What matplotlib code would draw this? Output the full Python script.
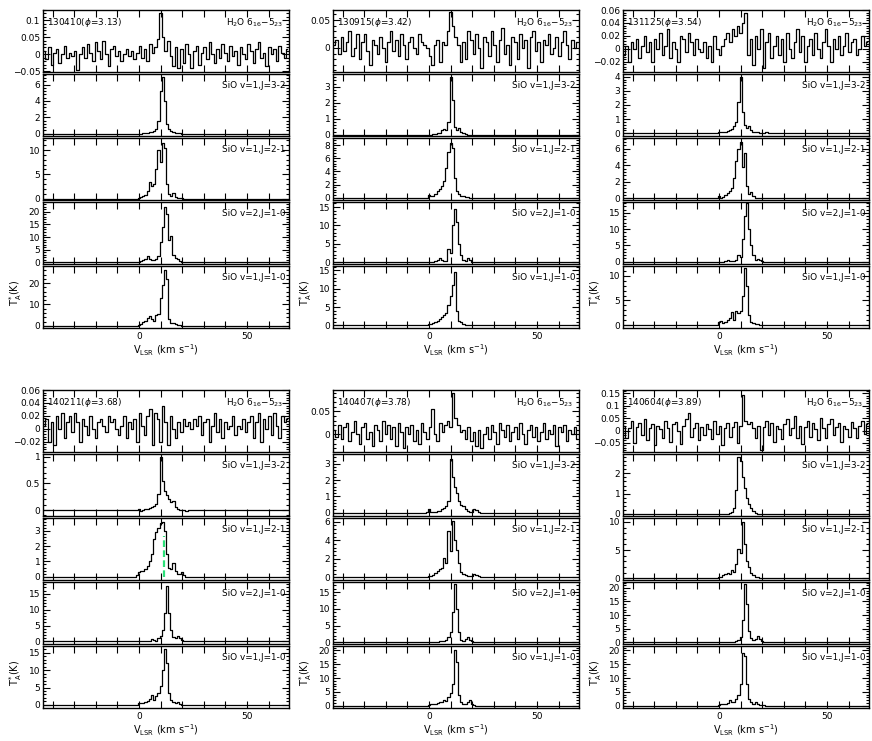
import numpy as np
import matplotlib
matplotlib.use('Agg')
import matplotlib.pyplot as plt
from matplotlib.ticker import FixedLocator, FuncFormatter, AutoMinorLocator

# observing epochs
dates = ['130410', '130915', '131125', '140211', '140407', '140604']
phases = [3.13, 3.42, 3.54, 3.68, 3.78, 3.89]
sio_names = ['SiO v=1,J=3-2', 'SiO v=1,J=2-1', 'SiO v=2,J=1-0', 'SiO v=1,J=1-0']

# H2O 6_16-5_23 spectra, units of 1e-3 K, channels from -44 km/s step 1.2 km/s
h2o_v0, h2o_dv = -44.0, 1.2
h2o_130410 = [10, -15, 20, -30, 5, 15, -25, 0, 25, -10, 5, -5, 10, -45, 0, 20, -10, 30, 5, -20,
              35, 10, -15, 40, 0, -35, 15, 25, -5, 10, -20, 0, 15, -5, 10, -15, 5, 25, -10, 15,
              -20, 30, 5, 20, 45, 120, 50, 10, 40, -5, -35, 20, -40, 15, -25, 30, 0, -40, 10, 25,
              -30, 5, 20, -15, 35, 0, -25, 15, -10, 30, 5, -20, 25, -5, 10, -30, 20, 0, -15, 30,
              10, -25, 15, 35, -10, 5, -35, 20, 0, 15, -20, 25, 5, -10, 15]
h2o_130915 = [5, 15, -10, 20, -5, 10, 30, -15, 0, 25, -20, 10, 25, -5, -30, 15, 5, -10, 20, 0,
              -25, 10, 30, -5, 15, -15, 25, 5, -20, 10, 20, 0, -10, 25, 10, 5, 0, -15, -30, 5,
              15, -25, 10, 5, 30, 65, 40, 20, 5, -25, 10, -20, 30, 15, -10, 25, 0, -35, 20, 10,
              -15, 30, 5, -25, 15, 35, -10, 5, -30, 20, 10, -20, 25, 0, 15, -35, 20, 30, -5, 10,
              -25, 15, 5, 25, -10, 0, 20, -15, 10, 30, 5, -20, 15, 0, 10]
h2o_131125 = [-10, 5, -20, 10, 0, 15, -15, 5, 20, -5, 10, -20, 15, 0, 25, -10, 5, 30, -15, 10,
              0, -20, 20, 15, -5, 25, 10, -10, 15, 0, -5, 10, -15, 5, -20, 20, 0, -10, 5, 15,
              25, 10, 30, 20, 35, 25, 40, 55, -10, 15, -25, 20, 0, 30, -30, 10, 25, -15, 5, 20,
              -10, 15, -20, 25, 0, -15, 10, 30, -5, 20, -20, 5, 15, -10, 25, 0, -15, 10, 30, 5,
              -20, 15, 0, 20, -10, 5, 25, -5, 10, 15, -10, 0, 20, 5, 10]
h2o_140211 = [5, 15, -20, 10, -25, 20, 0, 25, -15, 10, 20, -5, 25, 10, -20, 15, 5, -10, 20, 0,
              -15, 10, 15, 5, -5, 20, 10, 15, 0, -10, 5, 20, -15, 10, 0, 15, -20, 25, 5, -10,
              20, 30, -25, 25, 15, -20, 35, 10, -25, 20, 0, -15, 10, -5, 15, 5, 10, 0, 15, 5,
              20, -10, 10, 15, -20, 5, 25, -5, 15, -15, 10, 0, 5, 20, -10, 5, 0, 15, -5, 10,
              20, -15, 10, 25, -20, 15, 0, 20, -10, 25, 5, -15, 20, 10, 15]
h2o_140407 = [10, -5, 20, -10, 15, 25, -15, 5, 30, 0, -20, 15, 25, -10, 5, -25, 20, 10, -15, 30,
              0, 20, -10, 15, -25, 25, 5, -30, 15, 0, 20, -15, 10, -20, 25, 5, -10, 15, 55, 0,
              -15, 25, 5, 20, 30, 15, 90, 35, 20, 5, 10, -10, 15, -15, 5, -25, 10, -30, 0, 15,
              -10, 20, 5, -20, 25, 10, -5, 20, -15, 5, 15, -10, 25, 0, -20, 10, 20, -5, 15, -15,
              5, 25, -10, 10, 0, 20, -25, 15, 5, 20, -15, 10, 0, 15, -10]
h2o_140604 = [20, -30, 10, 40, -50, 15, 30, -20, 45, -40, 10, 25, -60, 20, 5, -30, 40, 10, -45, 25,
              35, 0, -55, 20, 45, 70, -25, 10, 30, -40, 15, -20, 25, 5, -35, 40, -15, 20, -60, 10,
              30, -25, 15, 35, -50, 20, 145, 40, 25, 35, 10, -30, 20, -80, 15, 40, -20, 30, -45, 20,
              5, -35, 25, 45, -20, 10, 60, -30, 20, -55, 15, 40, -25, 30, 5, -40, 50, 10, -30, 25,
              45, -20, 15, 30, -45, 20, 5, -25, 35, 10, -30, 20, 40, -15, 25]

# SiO spectra (K), channels from -2 km/s step 1 km/s, baseline zero outside
sio_v0 = -2.0
sio_130410_32 = [0, 0, 0, 0, 0.05, 0.05, 0.1, 0.15, 0.2, 0.3, 0.6, 1.5, 5.2, 6.9, 4.0, 1.2, 0.5, 0.3, 0.2, 0.1, 0.05, 0.05, 0, 0, 0, 0, 0, 0]
sio_130410_21 = [0, 0, 0.2, 0.3, 0.5, 0.8, 1.5, 3.4, 2.5, 3.0, 6, 10, 7.5, 11.5, 10.5, 3, 1.0, 0.6, 1.2, 0.4, 0.2, 0.1, 0.05, 0, 0, 0, 0, 0]
sio_130410_v2 = [0, 0, 0.2, 0.4, 0.8, 1.5, 2.5, 1.5, 0.8, 1.0, 1.5, 2.5, 8, 14, 22, 19, 9, 10.5, 3, 1.8, 1.5, 0.5, 0.2, 0.1, 0, 0, 0, 0]
sio_130410_10 = [0, 0, 0.3, 1.0, 2.0, 2.5, 3.5, 4.5, 3.0, 2.5, 5.0, 5.5, 13, 19, 26, 22, 3, 1.2, 1.5, 1.0, 0.6, 0.2, 0.1, 0, 0, 0, 0, 0]

sio_130915_32 = [0, 0, 0, 0, 0.05, 0.05, 0.1, 0.1, 0.3, 0.35, 0.3, 0.8, 3.6, 2.2, 0.5, 0.3, 0.4, 0.2, 0.1, 0.05, 0, 0, 0, 0, 0, 0, 0, 0]
sio_130915_21 = [0, 0, 0.4, 0.2, 0.3, 0.6, 1.0, 1.4, 1.8, 2.5, 4.5, 7, 8.3, 7.5, 3.0, 1.0, 0.5, 0.3, 0.2, 0.1, 0.05, 0, 0, 0, 0, 0, 0, 0]
sio_130915_v2 = [0, 0, 0, 0, 0, 0.2, 0.5, 1.2, 0.5, 0.2, 0.3, 3.5, 2.5, 10, 14.5, 11, 5, 2, 0.5, 0.4, 1.0, 0.5, 0.1, 0, 0, 0, 0, 0]
sio_130915_10 = [0, 0, 0.5, 0.3, 0.6, 0.9, 1.2, 1.8, 2.2, 2.8, 3.5, 5.5, 8, 11, 14.5, 4, 1.2, 0.8, 0.4, 0.2, 0.1, 0, 0, 0, 0, 0, 0, 0]

sio_131125_32 = [0, 0, 0.05, 0.05, 0.1, 0.1, 0.15, 0.2, 0.3, 0.5, 0.8, 2.2, 4.0, 1.5, 0.6, 0.4, 0.5, 0.2, 0.1, 0.1, 0.05, 0, 0, 0, 0.05, 0, 0, 0]
sio_131125_21 = [0, 0, 0.3, 0.1, 0.2, 0.4, 0.6, 0.9, 1.2, 2.5, 4.5, 6.0, 6.8, 3.8, 5.5, 1.5, 0.5, 0.8, 0.3, 0.1, 0, 0, 0, 0, 0, 0, 0, 0]
sio_131125_v2 = [0, 0, 0, 0, 0, 0.3, 0.6, 0.3, 0.2, 0.3, 0.5, 2.0, 1.5, 7, 14, 18, 10, 5, 2, 0.5, 0.8, 0.5, 0.1, 0, 0, 0, 0, 0]
sio_131125_10 = [0, 0, 0.6, 0.8, 0.5, 0.7, 1.0, 1.5, 2.6, 1.0, 2.8, 2.5, 2.8, 6, 11.5, 8, 2, 0.6, 0.4, 0.3, 0.2, 0.1, 0, 0, 0, 0, 0, 0]

sio_140211_32 = [0.01, 0, 0.02, -0.01, 0.01, 0.02, 0.03, 0.04, 0.06, 0.08, 0.12, 0.3, 1.0, 0.55, 0.35, 0.28, 0.2, 0.15, 0.18, 0.06, 0.02, 0.01, 0, 0.01, -0.01, 0.01, 0, 0]
sio_140211_21 = [0, 0.1, 0.3, 0.35, 0.4, 0.5, 0.7, 1.0, 1.5, 2.5, 2.9, 3.2, 3.5, 3.6, 3.0, 1.5, 0.6, 0.5, 0.9, 0.4, 0.2, 0.15, 0.3, 0.1, 0, 0, 0, 0]
sio_140211_v2 = [0, 0, 0, 0, 0, 0, 0.2, 0.3, 0.8, 0.4, 0.3, 1.0, 1.8, 3.5, 9, 17.5, 9, 3.5, 1.5, 1.2, 1.8, 1.0, 0.4, 0.1, 0, 0, 0, 0]
sio_140211_10 = [0, 0, 0.4, 0.5, 0.5, 0.8, 1.2, 1.8, 2.8, 1.5, 2.5, 3.5, 5.5, 10, 16, 12, 3.5, 1.5, 0.8, 0.6, 0.8, 0.3, 0.1, 0, 0, 0, 0, 0]

sio_140407_32 = [0, 0.05, 0.2, 0.05, 0.05, 0.05, 0.1, 0.1, 0.2, 0.3, 0.4, 0.7, 3.3, 2.2, 1.6, 1.2, 0.7, 0.5, 0.4, 0.2, 0.1, 0.05, 0.05, 0.2, 0.15, 0.05, 0, 0]
sio_140407_21 = [0, 0.05, 0.1, 0.2, 0.3, 0.5, 0.7, 0.9, 1.0, 2.1, 1.6, 5.0, 2.8, 6.1, 4.0, 3.0, 1.5, 0.6, 0.4, 0.3, 0.2, 0.1, 0.2, 0.4, 0.3, 0.1, 0, 0]
sio_140407_v2 = [0, 0, 0, 0, 0, 0, 0.2, 0.5, 0.3, 0.5, 0.8, 1.5, 3, 9, 17.5, 10, 3, 0.8, 0.5, 1.0, 1.5, 0.8, 0.3, 0.1, 0, 0, 0, 0]
sio_140407_10 = [0, 0, 0.3, 0.5, 0.6, 0.8, 1.0, 1.2, 1.5, 2.2, 1.8, 3.0, 4.5, 8, 20, 16, 4, 1.2, 0.8, 0.8, 1.2, 2.0, 0.5, 0.2, 0.1, 0, 0, 0]

sio_140604_32 = [0, 0, 0, 0, 0, 0, 0.02, 0.05, 0.1, 0.3, 1.2, 2.8, 2.6, 1.8, 1.3, 0.8, 0.5, 0.3, 0.15, 0.05, 0, 0, 0, 0, 0, 0, 0, 0]
sio_140604_21 = [0, 0, 0.2, 0.3, 0.5, 0.7, 1.0, 0.8, 1.5, 1.2, 2.5, 5.2, 4.5, 10, 6, 3, 2, 1.0, 0.5, 0.3, 0.2, 0.1, 0, 0, 0, 0, 0, 0]
sio_140604_v2 = [0, 0, 0, 0, 0, 0, 0, 0, 0, 0, 0.3, 0.6, 2, 8, 21.5, 14, 4, 1.5, 0.8, 1.0, 2.2, 1.0, 0.3, 0.1, 0, 0, 0, 0]
sio_140604_10 = [0, 0, 0.4, 0.8, 0.6, 0.8, 1.0, 2.0, 1.2, 1.5, 2.5, 4, 8, 19, 18, 8, 2.5, 1.2, 0.8, 1.5, 0.8, 0.4, 0.3, 0.2, 0.1, 0, 0, 0]

h2o_spectra = [h2o_130410, h2o_130915, h2o_131125, h2o_140211, h2o_140407, h2o_140604]
sio_spectra = [
    [sio_130410_32, sio_130410_21, sio_130410_v2, sio_130410_10],
    [sio_130915_32, sio_130915_21, sio_130915_v2, sio_130915_10],
    [sio_131125_32, sio_131125_21, sio_131125_v2, sio_131125_10],
    [sio_140211_32, sio_140211_21, sio_140211_v2, sio_140211_10],
    [sio_140407_32, sio_140407_21, sio_140407_v2, sio_140407_10],
    [sio_140604_32, sio_140604_21, sio_140604_v2, sio_140604_10],
]

# y ranges and ticks for each sub-panel (H2O, 3-2, 2-1, v2 1-0, v1 1-0)
ylims = [
    [(-0.052, 0.13), (-0.3, 7.3), (-0.3, 12.5), (-0.6, 23.8), (-1.0, 28)],
    [(-0.043, 0.068), (-0.08, 3.8), (-0.35, 9.1), (-0.5, 16.4), (-0.7, 16.2)],
    [(-0.036, 0.06), (-0.2, 4.2), (-0.2, 7.3), (-0.7, 18.3), (-0.6, 12)],
    [(-0.036, 0.06), (-0.11, 1.05), (-0.22, 3.85), (-0.8, 18.7), (-0.9, 17)],
    [(-0.038, 0.096), (-0.2, 3.6), (-0.28, 6.4), (-0.5, 18), (-0.8, 21.6)],
    [(-0.087, 0.164), (-0.1, 2.95), (-0.3, 10.7), (-0.7, 22.2), (-0.8, 21.6)],
]
yticks = [
    [[-0.05, 0, 0.05, 0.1], [0, 2, 4, 6], [0, 5, 10], [0, 5, 10, 15, 20], [0, 10, 20]],
    [[0, 0.05], [0, 1, 2, 3], [0, 2, 4, 6, 8], [0, 5, 10, 15], [0, 5, 10, 15]],
    [[-0.02, 0, 0.02, 0.04, 0.06], [0, 1, 2, 3, 4], [0, 2, 4, 6], [0, 5, 10, 15], [0, 5, 10]],
    [[-0.02, 0, 0.02, 0.04, 0.06], [0, 0.5, 1], [0, 1, 2, 3], [0, 5, 10, 15], [0, 5, 10, 15]],
    [[0, 0.05], [0, 1, 2, 3], [0, 2, 4, 6], [0, 5, 10, 15], [0, 5, 10, 15, 20]],
    [[-0.05, 0, 0.05, 0.1, 0.15], [0, 1, 2], [0, 5, 10], [0, 5, 10, 15, 20], [0, 5, 10, 15, 20]],
]

# marked velocity in the 140211 SiO v=1,J=2-1 panel
mark_v, mark_top = 11.7, 2.7

W, H = 872, 741
fig = plt.figure(figsize=(W / 100, H / 100), dpi=100)
col_left = [43, 333, 623]
col_w = 246
row_top = [9, 389]
sub_h = 64
fs = 6.4


def px_axes(x0, y0, w, h):
    return fig.add_axes([x0 / W, 1 - (y0 + h) / H, w / W, h / H])


yfmt = FuncFormatter(lambda x, pos: ('%g' % x).replace('-', '\u2212'))
xfmt = FuncFormatter(lambda x, pos: '%d' % x if round(x) in (0, 50) else '')

for p in range(6):
    r, c = divmod(p, 3)
    for k in range(5):
        ax = px_axes(col_left[c], row_top[r] + k * sub_h + 1, col_w, sub_h - 2)
        if k == 0:
            T = np.array(h2o_spectra[p]) * 1e-3
            v = h2o_v0 + h2o_dv * np.arange(len(T))
        else:
            Tw = np.array(sio_spectra[p][k - 1], dtype=float)
            v = np.concatenate([[-46.0], sio_v0 + np.arange(len(Tw)), [71.0]])
            T = np.concatenate([[0.0], Tw, [0.0]])
        ax.plot(v, T, drawstyle='steps-mid', color='k', lw=0.9)
        ax.set_xlim(-44.5, 69.5)
        ax.set_ylim(*ylims[p][k])
        ax.xaxis.set_major_locator(FixedLocator(np.arange(-40, 71, 10)))
        ax.xaxis.set_major_formatter(xfmt)
        ax.yaxis.set_major_locator(FixedLocator(yticks[p][k]))
        ax.yaxis.set_major_formatter(yfmt)
        ax.yaxis.set_minor_locator(AutoMinorLocator(5))
        ax.tick_params(which='both', direction='in', top=True, right=True,
                       labelsize=6.5, pad=2, width=0.8)
        ax.tick_params(which='major', length=5)
        ax.tick_params(which='minor', length=2.5)
        ax.tick_params(axis='x', labelbottom=(k == 4), pad=3)
        for s in ax.spines.values():
            s.set_linewidth(1.0)
        if k == 0:
            ax.text(0.015, 0.9, '%s($\\phi$=%.2f)' % (dates[p], phases[p]),
                    transform=ax.transAxes, ha='left', va='top', fontsize=fs)
            ax.text(0.975, 0.9, 'H$_2$O 6$_{16}$\u22125$_{23}$',
                    transform=ax.transAxes, ha='right', va='top', fontsize=fs)
        else:
            ax.text(0.985, 0.88, sio_names[k - 1], transform=ax.transAxes,
                    ha='right', va='top', fontsize=fs)
        if p == 3 and k == 2:
            ax.plot([mark_v, mark_v], [0, mark_top], color='#2ee07a', lw=1.6,
                    ls=(0, (3, 1.5)))
    bottom = row_top[r] + 5 * sub_h
    fig.text((col_left[c] + col_w / 2) / W, 1 - (bottom + 21) / H,
             'V$_{\\rm LSR}$ (km s$^{-1}$)', ha='center', va='center', fontsize=7)
    fig.text((col_left[c] - 27) / W, 1 - (bottom - 36) / H,
             'T$_{\\rm A}^{*}$(K)', ha='center', va='center', rotation=90, fontsize=7)

fig.savefig('out.png', dpi=100)
